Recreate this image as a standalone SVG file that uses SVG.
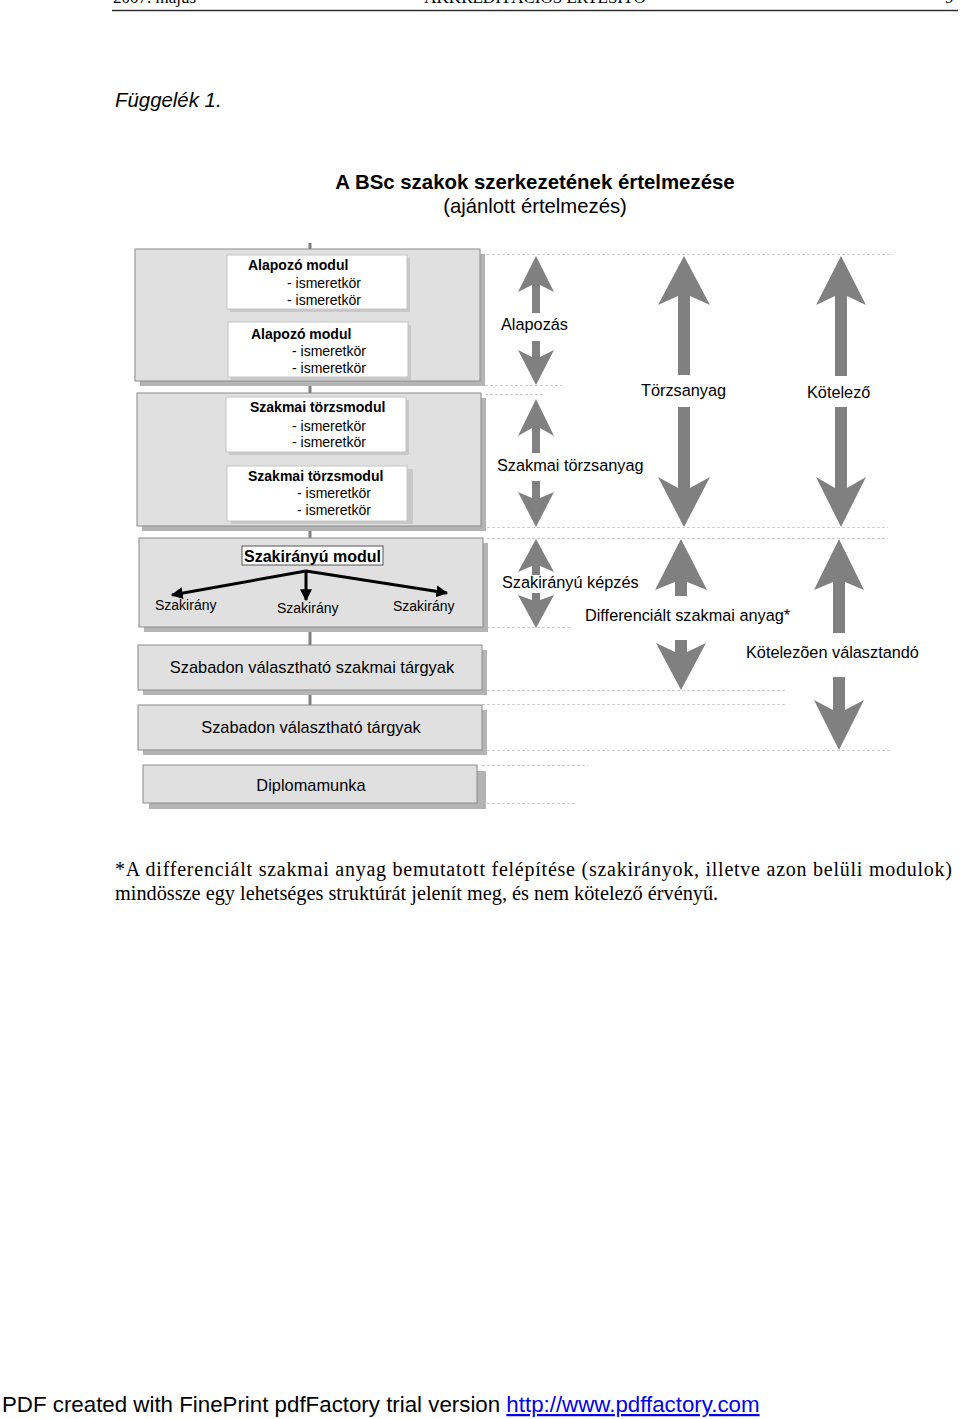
<svg xmlns="http://www.w3.org/2000/svg" width="960" height="1419" viewBox="0 0 960 1419">
<style>
.s{font-family:"Liberation Sans",Arial,sans-serif;fill:#000}
.t{font-family:"Liberation Serif","Times New Roman",serif;fill:#000}
.b{font-weight:bold}
.outer{fill:#e0e0e0;stroke:#8a8a8a;stroke-width:1}
.sh{fill:#b4b4b4}
.inner{fill:#fff;stroke:#c4c4c4;stroke-width:1}
.ish{fill:#c8c8c8}
.dot{stroke:#cfcfcf;stroke-width:1;stroke-dasharray:3 2;fill:none}
.ga{fill:#808080}
.lb{font-size:16.3px}
.in{font-size:14px}
</style>
<defs>
<marker id="ah" viewBox="0 0 10 10" refX="9" refY="5" markerWidth="4" markerHeight="4" orient="auto" markerUnits="strokeWidth">
<path d="M0,0 L10,5 L0,10 z" fill="#000"/>
</marker>
</defs>
<rect width="960" height="1419" fill="#fff"/>
<g id="header">
<text class="t" x="113" y="3" font-size="17">2007. május</text>
<text class="t" x="535" y="3" font-size="17" text-anchor="middle">AKKREDITÁCIÓS ÉRTESÍTŐ</text>
<text class="t" x="945" y="3" font-size="17">9</text>
<line x1="112" y1="10.5" x2="958" y2="10.5" stroke="#333" stroke-width="1.5"/>
</g>
<text class="s" x="115" y="107" font-size="20.4" font-style="italic">Függelék 1.</text>
<text class="s b" x="535" y="189" font-size="20.4" text-anchor="middle">A BSc szakok szerkezetének értelmezése</text>
<text class="s" x="535" y="213" font-size="20.3" text-anchor="middle">(ajánlott értelmezés)</text>

<g id="dotted">
<line class="dot" x1="482" y1="254.5" x2="893" y2="254.5"/>
<line class="dot" x1="455" y1="385.5" x2="565" y2="385.5"/>
<line class="dot" x1="485" y1="394.5" x2="545" y2="394.5"/>
<line class="dot" x1="487" y1="527.5" x2="888" y2="527.5"/>
<line class="dot" x1="487" y1="538.5" x2="888" y2="538.5"/>
<line class="dot" x1="482" y1="627.5" x2="570" y2="627.5"/>
<line class="dot" x1="482" y1="690.5" x2="785" y2="690.5"/>
<line class="dot" x1="482" y1="704.5" x2="785" y2="704.5"/>
<line class="dot" x1="482" y1="750.5" x2="892" y2="750.5"/>
<line class="dot" x1="482" y1="765.5" x2="588" y2="765.5"/>
<line class="dot" x1="482" y1="803.5" x2="575" y2="803.5"/>
</g>

<g id="connectors">
<line x1="310" y1="243" x2="310" y2="705" stroke="#808080" stroke-width="3"/>
</g>

<g id="alapozo">
<rect class="sh" x="140" y="254" width="345" height="132"/>
<rect class="outer" x="135" y="249" width="345" height="132"/>
<g id="alapozo-modul-1">
<rect class="ish" x="230" y="258" width="180" height="54"/>
<rect class="inner" x="227" y="255" width="180" height="54"/>
<text class="s b in" x="248" y="270">Alapozó modul</text>
<text class="s in" x="287" y="288">- ismeretkör</text>
<text class="s in" x="287" y="305">- ismeretkör</text>
</g>
<g id="alapozo-modul-2">
<rect class="ish" x="231" y="325" width="180" height="55"/>
<rect class="inner" x="228" y="322" width="180" height="55"/>
<text class="s b in" x="251" y="339">Alapozó modul</text>
<text class="s in" x="292" y="356">- ismeretkör</text>
<text class="s in" x="292" y="373">- ismeretkör</text>
</g>
</g>

<g id="szakmai">
<rect class="sh" x="142" y="398" width="344" height="133"/>
<rect class="outer" x="137" y="393" width="344" height="133"/>
<g id="szakmai-modul-1">
<rect class="ish" x="229" y="400" width="180" height="55"/>
<rect class="inner" x="226" y="397" width="180" height="55"/>
<text class="s b in" x="250" y="412">Szakmai törzsmodul</text>
<text class="s in" x="292" y="431">- ismeretkör</text>
<text class="s in" x="292" y="447">- ismeretkör</text>
</g>
<g id="szakmai-modul-2">
<rect class="ish" x="231" y="469" width="182" height="55"/>
<rect class="inner" x="227" y="466" width="180" height="55"/>
<text class="s b in" x="248" y="481">Szakmai törzsmodul</text>
<text class="s in" x="297" y="498">- ismeretkör</text>
<text class="s in" x="297" y="515">- ismeretkör</text>
</g>
</g>

<g id="szakiranyu">
<rect class="sh" x="144" y="543" width="344" height="89"/>
<rect class="outer" x="139" y="538" width="344" height="89"/>
<rect x="242" y="546" width="141" height="19" fill="#fff" stroke="#555" stroke-width="1"/>
<text class="s b" x="312.5" y="562" font-size="16" text-anchor="middle">Szakirányú modul</text>
<g stroke="#000" stroke-width="3" fill="none">
<line x1="306" y1="571" x2="172" y2="595" marker-end="url(#ah)"/>
<line x1="306" y1="571" x2="306" y2="600" marker-end="url(#ah)"/>
<line x1="306" y1="571" x2="447" y2="593" marker-end="url(#ah)"/>
</g>
<text class="s in" x="155" y="610">Szakirány</text>
<text class="s in" x="277" y="613">Szakirány</text>
<text class="s in" x="393" y="611">Szakirány</text>
</g>

<g id="szabadon-szakmai">
<rect class="sh" x="143" y="650" width="344" height="45"/>
<rect class="outer" x="138" y="645" width="344" height="45"/>
<text class="s" x="312" y="673" font-size="16.4" text-anchor="middle">Szabadon választható szakmai tárgyak</text>
</g>
<g id="szabadon">
<rect class="sh" x="143" y="710" width="344" height="45"/>
<rect class="outer" x="138" y="705" width="344" height="45"/>
<text class="s" x="311" y="733" font-size="16.4" text-anchor="middle">Szabadon választható tárgyak</text>
</g>
<g id="diplomamunka">
<rect class="sh" x="149" y="771" width="337" height="38"/>
<rect class="outer" x="143" y="765" width="334" height="38"/>
<text class="s" x="311" y="791" font-size="16.4" text-anchor="middle">Diplomamunka</text>
</g>

<g id="arrows">
<path class="ga" d="M536,256 L554,292 L540,285 L540,313 L532,313 L532,285 L518,292 Z"/>
<path class="ga" d="M532,341 L540,341 L540,357 L554,350 L536,385 L518,350 L532,357 Z"/>
<path class="ga" d="M536,399 L554,436 L540,428 L540,453 L532,453 L532,428 L518,436 Z"/>
<path class="ga" d="M532,481 L540,481 L540,498 L554,492 L536,527 L518,492 L532,498 Z"/>
<path class="ga" d="M536,539 L554,572 L540,566 L540,575 L532,575 L532,566 L518,572 Z"/>
<path class="ga" d="M532,593 L540,593 L540,600 L554,595 L536,628 L518,595 L532,600 Z"/>
<path class="ga" d="M684,256 L710,305 L690,296 L690,375 L678,375 L678,296 L658,305 Z"/>
<path class="ga" d="M678,407 L690,407 L690,488 L710,477 L684,527 L658,477 L678,488 Z"/>
<path class="ga" d="M681,539 L707,590 L687,582 L687,596 L675,596 L675,582 L655,590 Z"/>
<path class="ga" d="M675,640 L687,640 L687,652 L706,643 L681,690 L656,643 L675,652 Z"/>
<path class="ga" d="M841,256 L866,305 L847,296 L847,376 L835,376 L835,296 L816,305 Z"/>
<path class="ga" d="M835,407 L847,407 L847,488 L866,477 L841,527 L816,477 L835,488 Z"/>
<path class="ga" d="M839,539 L864,590 L845,582 L845,633 L833,633 L833,582 L814,590 Z"/>
<path class="ga" d="M833,677 L845,677 L845,710 L864,700 L839,750 L814,700 L833,710 Z"/>
</g>
<g id="labels">
<text class="s lb" x="501" y="330">Alapozás</text>
<text class="s lb" x="497" y="471">Szakmai törzsanyag</text>
<text class="s lb" x="641" y="396">Törzsanyag</text>
<text class="s lb" x="807" y="398">Kötelező</text>
<text class="s lb" x="502" y="588">Szakirányú képzés</text>
<text class="s lb" x="585" y="621">Differenciált szakmai anyag*</text>
<text class="s lb" x="746" y="658">Kötelezõen választandó</text>
</g>

<g id="footnote">
<text class="t" x="115" y="876" font-size="20" textLength="837" lengthAdjust="spacing">*A differenciált szakmai anyag bemutatott felépítése (szakirányok, illetve azon belüli modulok)</text>
<text class="t" x="115" y="900" font-size="20.3">mindössze egy lehetséges struktúrát jelenít meg, és nem kötelező érvényű.</text>
</g>

<g id="footer">
<text class="s" x="2" y="1412" font-size="22.3">PDF created with FinePrint pdfFactory trial version <tspan fill="#0000ee" text-decoration="underline">http://www.pdffactory.com</tspan></text>
</g>
</svg>
